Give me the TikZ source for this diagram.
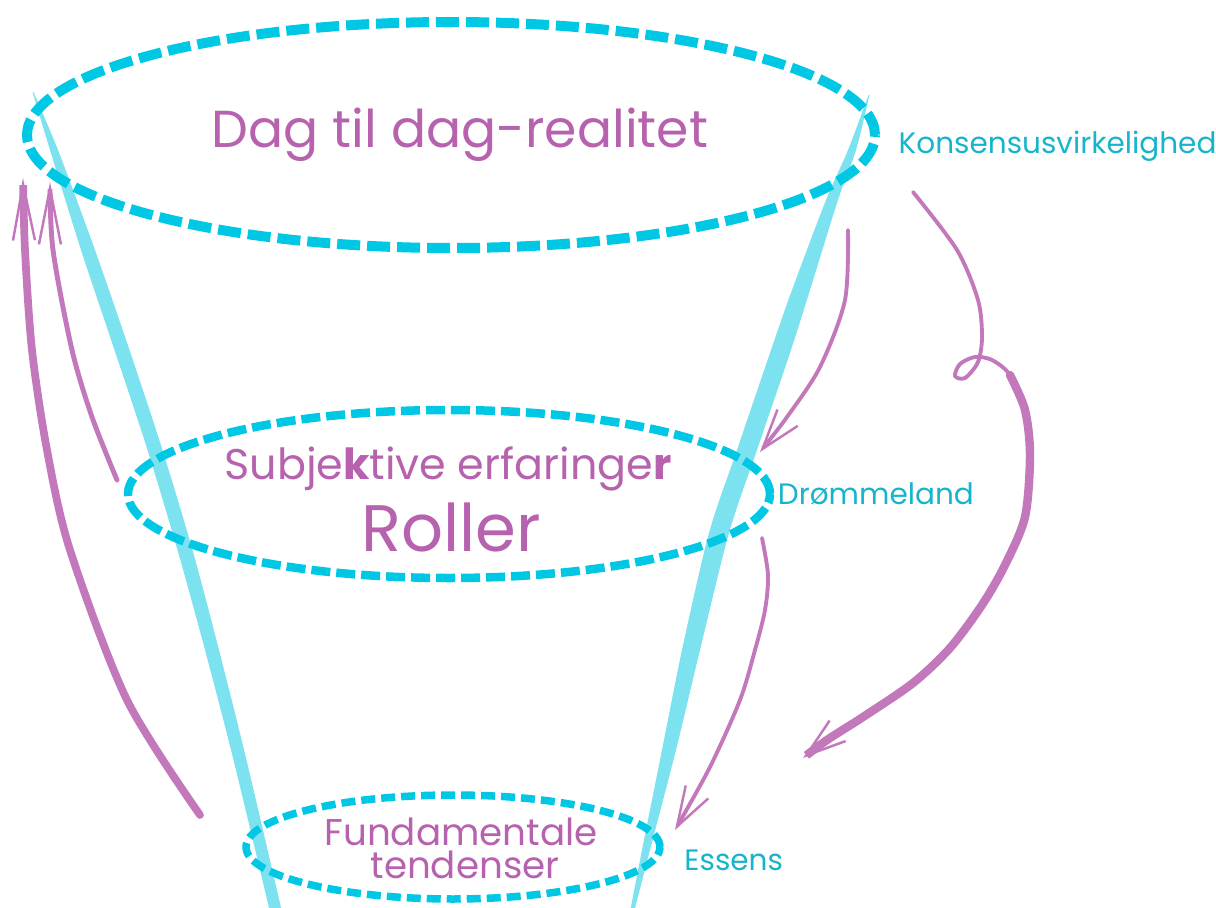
\documentclass[tikz,border=0pt]{standalone}
\usepackage{fontspec}
\setmainfont{Poppins}
\usetikzlibrary{arrows.meta,positioning,shapes.geometric}
\definecolor{rimcyan}{RGB}{0,200,228}
\definecolor{wallcyan}{RGB}{125,226,240}
\definecolor{txtpink}{RGB}{182,98,174}
\definecolor{arrpink}{RGB}{194,120,186}
\definecolor{lblcyan}{RGB}{24,180,204}
\tikzset{
  rim/.style={draw=rimcyan, ellipse, inner sep=0pt, line cap=butt},
  wall/.style={fill=wallcyan, draw=none},
  flow/.style={draw=arrpink, line cap=round,
    -{Straight Barb[length=4mm,width=2.6mm,line width=0.7pt]}},
  upflow/.style={flow,
    -{Straight Barb[length=5.6mm,width=2.2mm,line width=0.7pt]}},
  layer/.style={text=txtpink, inner sep=0pt, anchor=base},
  side/.style={text=lblcyan, inner sep=0pt,
    font=\fontsize{8.4}{10}\selectfont}
}

\begin{document}
\begin{tikzpicture}[x=0.1mm, y=-0.1mm]
  \useasboundingbox (0,0) rectangle (1216,908);

  % funnel walls
  \fill[wall] plot[smooth] coordinates {(32.5,92) (50,150) (81,250) (114.5,350)
      (147.5,450) (177.5,550) (205,650) (233.5,760) (270,912)}
    -- plot[smooth] coordinates {(282,912) (246.5,760) (219,650) (192.5,550)
      (162.5,450) (129.5,350) (95,250) (58,150) (33.5,92)} -- cycle;
  \fill[wall] plot[smooth] coordinates {(868.5,95) (848,150) (826,200) (792,290)
      (771,350) (737,450) (709,533) (682,650) (662,750) (642,850) (630,912)}
    -- plot[smooth] coordinates {(634,912) (650,850) (676,750) (700,650)
      (729,533) (757,450) (791,350) (810,290) (838,200) (856,150) (869.5,95)} -- cycle;

  % levels
  \node[rim, line width=1mm, minimum width=84.8mm, minimum height=22.6mm,
    dash pattern=on 2.3mm off 0.7mm] (top) at (451,135) {};
  \node[rim, line width=0.85mm, minimum width=64.2mm, minimum height=16.8mm,
    dash pattern=on 1.9mm off 0.6mm] (mid) at (449,494) {};
  \node[rim, line width=0.75mm, minimum width=41.4mm, minimum height=10.4mm,
    dash pattern=on 1.4mm off 0.6mm] (base) at (453,847) {};

  \node[layer, font=\fontsize{14.8}{17}\selectfont] (daily) at (460,147) {Dag til dag-realitet};
  \node[layer, font=\fontsize{12.2}{14}\selectfont] (subj) at (448,479) {Subje\textbf{k}tive erfaringe\textbf{r}};
  \node[layer, font=\fontsize{18.7}{21}\selectfont] (roles) at (451,551) {Roller};
  \node[layer, font=\fontsize{10.6}{12}\selectfont] (fund) at (461,845) {Fundamentale};
  \node[layer, font=\fontsize{10.6}{12}\selectfont] (tend) at (465,878) {tendenser};

  \node[side, right=1.8mm of top.east, yshift=-1.1mm] (consensus) {Konsensusvirkelighed};
  \node[side, right=0.3mm of mid.east] (dream) {Drømmeland};
  \node[side, right=2.0mm of base.east, yshift=-1.3mm] (essence) {Essens};

  % arrows
  \coordinate (outS) at (200,815);
  \coordinate (outT) at (23,178);
  \coordinate (inS) at (117,480);
  \coordinate (inT) at (50,182);
  \coordinate (dnS) at (848,230);
  \coordinate (dnT) at (760,452);
  \coordinate (loopS) at (913,192);
  \coordinate (loopM) at (1010,375);
  \coordinate (loopT) at (803,758);
  \coordinate (lowS) at (762,538);
  \coordinate (lowT) at (675,830);

  \draw[upflow, line width=2.2pt] plot[smooth] coordinates {(outS) (127,700) (70,550)
    (47,450) (32,350) (25,250) (outT)};
  \draw[upflow, line width=1.4pt] plot[smooth] coordinates {(inS) (92,417) (72,350)
    (53,250) (inT)};
  \draw[flow, line width=1.1pt] plot[smooth] coordinates {(dnS) (845,300) (820,367)
    (787,417) (dnT)};
  \draw[draw=arrpink, line width=1.1pt, line cap=round] plot[smooth] coordinates {(loopS)
    (957,250) (978,300) (982,337) (978,362) (965,378) (955,376) (960,364) (975,357)
    (992,360) (loopM) (1025,410)};
  \draw[flow, line width=2.4pt] plot[smooth] coordinates {(loopM) (1025,410)
    (1030,455) (1025,517) (1005,565) (982,605) (950,648) (913,683)
    (863,717) (827,740) (loopT)};
  \draw[flow, line width=1.1pt] plot[smooth] coordinates {(lowS) (768,575) (765,610)
    (755,650) (740,700) (710,767) (lowT)};
\end{tikzpicture}
\end{document}
